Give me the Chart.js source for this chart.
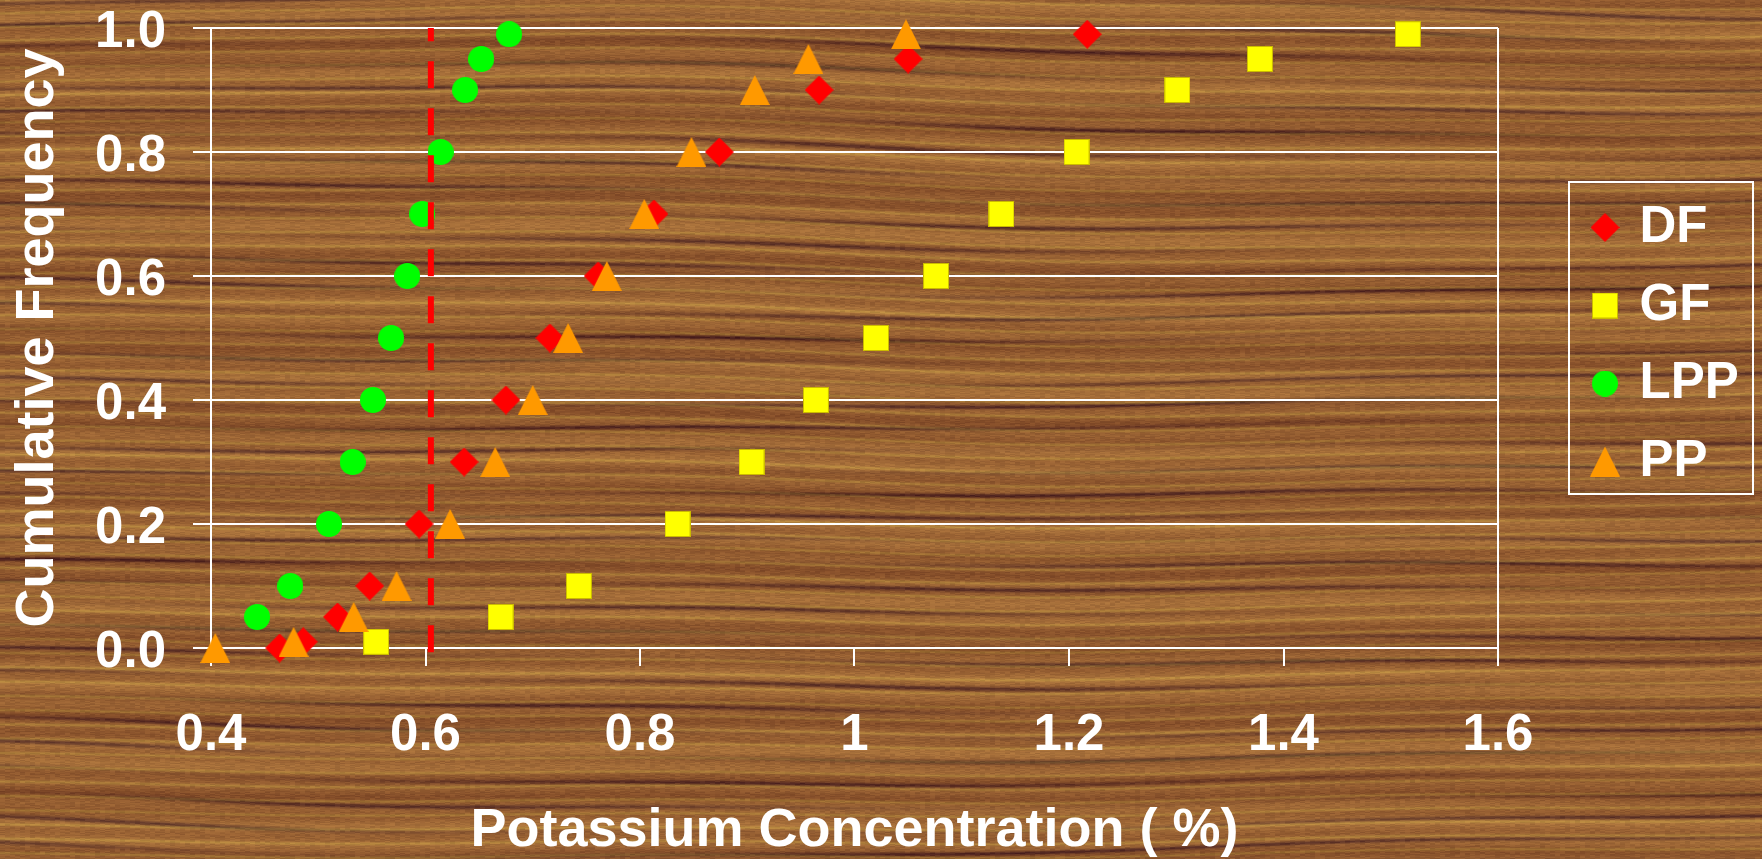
<!DOCTYPE html>
<html>
<head>
<meta charset="utf-8">
<title>Cumulative frequency of potassium concentration</title>
<script src="https://cdn.jsdelivr.net/npm/chart.js@4.4.1/dist/chart.umd.min.js"></script>
<style>
  html, body { margin: 0; padding: 0; overflow: hidden; background: #925c32; }
  #wrap { width: 1762px; height: 859px; }
</style>
</head>
<body>
<div id="wrap"><canvas id="chart" width="1762" height="859"></canvas></div>
<script>
// values
const dfX = [0.464, 0.486, 0.518, 0.548, 0.594, 0.636, 0.675, 0.716, 0.761, 0.813, 0.874, 0.967, 1.050, 1.217]
const dfY = [0, 0.01, 0.05, 0.1, 0.2, 0.3, 0.4, 0.5, 0.6, 0.7, 0.8, 0.9, 0.95, 0.99]

const gfX = [0.554, 0.670, 0.743, 0.835, 0.904, 0.964, 1.020, 1.076, 1.137, 1.207, 1.301, 1.378, 1.516]
const gfY = [0.01, 0.05, 0.1, 0.2, 0.3, 0.4, 0.5, 0.6, 0.7, 0.8, 0.9, 0.95, 0.99]

const lppX = [0.443, 0.474, 0.510, 0.532, 0.551, 0.568, 0.583, 0.597, 0.614, 0.637, 0.652, 0.678]
const lppY = [0.05, 0.1, 0.2, 0.3, 0.4, 0.5, 0.6, 0.7, 0.8, 0.9, 0.95, 0.99]

const ppX = [0.404, 0.477, 0.533, 0.573, 0.623, 0.665, 0.700, 0.733, 0.769, 0.804, 0.848, 0.907, 0.957, 1.048]
const ppY = [0, 0.01, 0.05, 0.1, 0.2, 0.3, 0.4, 0.5, 0.6, 0.7, 0.8, 0.9, 0.95, 0.99]

// red dashed threshold line
const limitX = [0.605, 0.605]
const limitY = [-0.007, 1.0]

const xTickLabels = ["0.4", "0.6", "0.8", "1", "1.2", "1.4", "1.6"]
const yTickLabels = ["0.0", "0.2", "0.4", "0.6", "0.8", "1.0"]

const FONT = "'Liberation Sans', Arial, Helvetica, sans-serif"

function toPoints(xs, ys) {
  return xs.map((x, i) => ({ x: x, y: ys[i] }))
}

function markerCanvas(w, h, paint) {
  const c = document.createElement("canvas")
  c.width = w
  c.height = h
  paint(c.getContext("2d"), w, h)
  return c
}

const diamond = markerCanvas(29, 29, (g, w, h) => {
  g.fillStyle = "#ff0000"
  g.beginPath()
  g.moveTo(w / 2, 0); g.lineTo(w, h / 2); g.lineTo(w / 2, h); g.lineTo(0, h / 2)
  g.closePath()
  g.fill()
})
const square = markerCanvas(26, 26, (g, w, h) => {
  g.fillStyle = "#ffff00"
  g.fillRect(0, 0, w, h)
  g.strokeStyle = "rgba(190,170,0,0.8)"
  g.lineWidth = 1
  g.strokeRect(0.5, 0.5, w - 1, h - 1)
})
const circle = markerCanvas(26, 26, (g, w, h) => {
  g.fillStyle = "#00ff00"
  g.beginPath()
  g.arc(w / 2, h / 2, w / 2, 0, Math.PI * 2)
  g.fill()
})
const triangle = markerCanvas(30, 30, (g, w, h) => {
  g.fillStyle = "#ff9900"
  g.beginPath()
  g.moveTo(w / 2, 0); g.lineTo(w, h); g.lineTo(0, h)
  g.closePath()
  g.fill()
})

// wood-grain backdrop, deterministic
function grainHash(x, y) {
  const s = Math.sin(x * 12.9898 + y * 78.233) * 43758.5453
  return s - Math.floor(s)
}
function woodTexture(w, h) {
  const c = document.createElement("canvas")
  c.width = w
  c.height = h
  const g = c.getContext("2d")
  const img = g.createImageData(w, h)
  const d = img.data
  for (let y = 0; y < h; y++) {
    for (let x = 0; x < w; x++) {
      const yy = y + 6 * Math.sin(x * 0.0027 + y * 0.004) + 2 * Math.sin(x * 0.009 + 1.7)
      const broad = Math.sin(yy * 0.085 + 0.8 * Math.sin(x * 0.002))
      const mid = Math.sin(yy * 0.33 + 1.5 * Math.sin(x * 0.003 + 0.4))
      const fade = 0.55 + 0.45 * Math.sin(x * 0.0043 + y * 0.07)
      const dark = fade * Math.pow(Math.max(0, Math.sin(yy * 0.27 + 2 * Math.sin(x * 0.0021 + y * 0.011))), 6)
      const light = Math.pow(Math.max(0, Math.sin(yy * 0.45 + 1.0 + 1.5 * Math.sin(x * 0.0037))), 4)
      const n = grainHash(Math.floor(x / 5), y) - 0.5
      const i = (y * w + x) * 4
      d[i] = 150 + 10 * broad + 8 * mid - 62 * dark + 18 * light + 22 * n
      d[i + 1] = 95 + 10 * broad + 8 * mid - 50 * dark + 26 * light + 18 * n
      d[i + 2] = 50 + 5 * broad + 4 * mid - 14 * dark + 6 * light + 10 * n
      d[i + 3] = 255
    }
  }
  g.putImageData(img, 0, 0)
  return c
}

const canvas = document.getElementById("chart")
const wood = woodTexture(canvas.width, canvas.height)

const chartDecor = {
  id: "chartDecor",
  beforeDraw(chart) {
    chart.ctx.drawImage(wood, 0, 0)
  },
  afterLayout(chart) {
    // legend box sits to the right of the plot
    const lg = chart.legend
    lg.left = 1569; lg.right = 1753; lg.width = 184
    lg.top = 159; lg.bottom = 530; lg.height = 371
  },
  afterDraw(chart) {
    const ctx = chart.ctx
    ctx.save()
    ctx.strokeStyle = "#ffffff"
    ctx.lineWidth = 2
    ctx.strokeRect(1569, 182, 184, 312)
    ctx.restore()
  }
}

const myChart = new Chart(canvas.getContext("2d"), {
  type: "scatter",
  data: {
    datasets: [
      { label: "DF", data: toPoints(dfX, dfY), pointStyle: diamond, pointRadius: 14, order: 4 },
      { label: "GF", data: toPoints(gfX, gfY), pointStyle: square, pointRadius: 13, order: 3 },
      { label: "LPP", data: toPoints(lppX, lppY), pointStyle: circle, pointRadius: 13, order: 2 },
      { label: "PP", data: toPoints(ppX, ppY), pointStyle: triangle, pointRadius: 15, order: 1 },
      {
        label: "limit",
        data: toPoints(limitX, limitY),
        showLine: true,
        borderColor: "#ff0000",
        borderWidth: 6,
        borderDash: [27, 20],
        pointRadius: 0,
        order: 0
      }
    ]
  },
  options: {
    responsive: false,
    animation: false,
    events: [],
    clip: false,
    layout: { padding: { top: 28, right: 263, bottom: 0, left: 0 } },
    plugins: {
      tooltip: { enabled: false },
      legend: {
        position: "right",
        maxWidth: 1,
        labels: {
          usePointStyle: true,
          boxWidth: 18,
          boxHeight: 18,
          padding: 27,
          color: "#fff",
          font: { family: FONT, size: 51, weight: "bold" },
          filter: (item) => item.datasetIndex < 4,
          sort: (a, b) => a.datasetIndex - b.datasetIndex
        }
      }
    },
    scales: {
      x: {
        type: "linear",
        min: 0.4,
        max: 1.6,
        ticks: {
          stepSize: 0.2,
          autoSkip: false,
          maxRotation: 0,
          padding: 39,
          color: "#fff",
          font: { family: FONT, size: 51, weight: "bold" },
          callback: (value, index) => xTickLabels[index]
        },
        grid: {
          color: (c) => (c.tick && c.tick.value > 1.59) ? "#fff" : "rgba(0,0,0,0)",
          tickColor: "#fff",
          lineWidth: 2,
          tickLength: 18
        },
        border: { color: "#fff", width: 2 },
        title: {
          display: true,
          text: "Potassium Concentration ( %)",
          color: "#fff",
          font: { family: FONT, size: 54, weight: "bold", lineHeight: 1 },
          padding: { top: 0, bottom: 1 }
        },
        afterFit: (scale) => {
          scale.height = 211
          scale.paddingLeft = 0
          scale.paddingRight = 0
        }
      },
      y: {
        min: 0,
        max: 1,
        ticks: {
          stepSize: 0.2,
          padding: 27,
          labelOffset: 5,
          color: "#fff",
          font: { family: FONT, size: 51, weight: "bold" },
          callback: (value, index) => yTickLabels[index]
        },
        grid: {
          color: "#fff",
          lineWidth: 2,
          tickLength: 18
        },
        border: { color: "#fff", width: 2 },
        title: {
          display: true,
          text: "Cumulative Frequency",
          color: "#fff",
          font: { family: FONT, size: 54, weight: "bold", lineHeight: 1 },
          padding: { top: 11, bottom: 0 }
        },
        afterFit: (scale) => {
          scale.width = 211
          scale.paddingTop = 0
          scale.paddingBottom = 0
        }
      }
    }
  },
  plugins: [chartDecor]
});
</script>
</body>
</html>
